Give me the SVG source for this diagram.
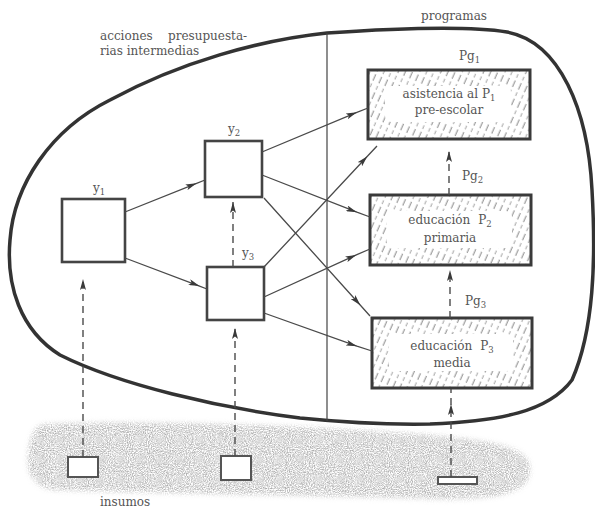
<svg xmlns="http://www.w3.org/2000/svg" width="595" height="511" viewBox="0 0 595 511">
  <style>
    .lbl { font-family: "DejaVu Serif", "Liberation Serif", serif; font-size: 12px; fill: #555; }
    .sub { font-size: 8.5px; }
    .bnd { fill: none; stroke: #333; stroke-width: 3.5; }
    .div { fill: none; stroke: #444; stroke-width: 1.2; }
    .act { fill: #fff; stroke: #444; stroke-width: 2.6; }
    .prg { fill: url(#hatch); stroke: #3a3a3a; stroke-width: 3; }
    .inp { fill: #fff; stroke: #555; stroke-width: 2; }
    .flow { fill: none; stroke: #4a4a4a; stroke-width: 1.3; marker-mid: url(#ah); }
    .feed { fill: none; stroke: #4a4a4a; stroke-width: 1.4; stroke-dasharray: 7 5; marker-end: url(#ah); }
    .feedm { fill: none; stroke: #4a4a4a; stroke-width: 1.4; stroke-dasharray: 7 5; marker-mid: url(#ah); }
    .clear { fill: #fff; }
  </style>
  <defs>
    <marker id="ah" viewBox="0 0 11 6" refX="11" refY="3" markerWidth="11" markerHeight="6" orient="auto" markerUnits="userSpaceOnUse">
      <path d="M0,0 L11,3 L0,6 L2.5,3 z" fill="#3a3a3a"/>
    </marker>
    <!-- broken diagonal hatching for the program boxes -->
    <pattern id="hatch" width="6.5" height="17" patternUnits="userSpaceOnUse" patternTransform="rotate(24)">
      <rect width="6.5" height="17" fill="#fff"/>
      <line x1="3" y1="0" x2="3" y2="7" stroke="#777" stroke-width="0.9"/>
      <line x1="3" y1="10" x2="3" y2="14" stroke="#888" stroke-width="0.8"/>
    </pattern>
    <!-- speckled grey wash for the input area -->
    <filter id="stipple" x="-5%" y="-30%" width="110%" height="160%">
      <feGaussianBlur in="SourceAlpha" stdDeviation="2.5" result="soft"/>
      <feTurbulence type="fractalNoise" baseFrequency="0.95" numOctaves="2" seed="7" result="noise"/>
      <feColorMatrix in="noise" type="matrix" values="0 0 0 0 0.42  0 0 0 0 0.42  0 0 0 0 0.42  0 0 0 1.9 -0.55" result="dots"/>
      <feComposite in="dots" in2="soft" operator="in"/>
    </filter>
  </defs>

  <!-- input area -->
  <g id="insumos-area">
    <path d="M 45 424 C 150 419, 350 427, 450 437 C 510 443, 532 452, 530 472 C 528 492, 500 501, 430 499 C 330 496, 150 493, 55 490 C 32 488, 26 470, 28 455 C 30 435, 35 425, 45 424 Z" fill="#000" filter="url(#stipple)"/>
    <text class="lbl" x="100" y="506">insumos</text>
  </g>

  <!-- system boundary -->
  <g id="boundary">
    <path class="bnd" d="M 327 33 C 400 28, 470 26, 507 32 C 560 42, 588 110, 592 190 C 596 260, 594 330, 572 380 C 548 412, 500 421, 430 424 C 380 425, 340 422, 300 418 C 220 408, 120 385, 60 355 C 20 330, 6 285, 10 240 C 14 185, 50 130, 110 100 C 180 62, 260 40, 327 33 Z"/>
    <line class="div" x1="327" y1="33" x2="327" y2="421"/>
    <text class="lbl" x="100" y="40">acciones</text>
    <text class="lbl" x="168" y="40">presupuesta-</text>
    <text class="lbl" x="100" y="55">rias intermedias</text>
    <text class="lbl" x="454" y="20" text-anchor="middle">programas</text>
  </g>

  <!-- intermediate actions -->
  <g id="y1">
    <rect class="act" x="62" y="199" width="63" height="63"/>
    <text class="lbl" x="93" y="192">y<tspan class="sub" dy="3">1</tspan></text>
  </g>
  <g id="y2">
    <rect class="act" x="205" y="141" width="57" height="56"/>
    <text class="lbl" x="228" y="133">y<tspan class="sub" dy="3">2</tspan></text>
  </g>
  <g id="y3">
    <rect class="act" x="207" y="267" width="57" height="53"/>
    <text class="lbl" x="242" y="257">y<tspan class="sub" dy="3">3</tspan></text>
  </g>

  <!-- programs -->
  <g id="p1">
    <rect class="prg" x="368" y="70" width="162" height="69"/>
    <rect class="clear" x="385" y="86" width="126" height="36" rx="6"/>
    <text class="lbl" x="449" y="98" text-anchor="middle">asistencia al P<tspan class="sub" dy="3">1</tspan></text>
    <text class="lbl" x="449" y="114" text-anchor="middle">pre-escolar</text>
    <text class="lbl" x="459" y="60">Pg<tspan class="sub" dy="3">1</tspan></text>
  </g>
  <g id="p2">
    <rect class="prg" x="370" y="195" width="161" height="70"/>
    <rect class="clear" x="387" y="211" width="125" height="37" rx="6"/>
    <text class="lbl" x="450" y="224" text-anchor="middle">educación<tspan dx="8">P</tspan><tspan class="sub" dy="3">2</tspan></text>
    <text class="lbl" x="450" y="242" text-anchor="middle">primaria</text>
    <text class="lbl" x="462" y="180">Pg<tspan class="sub" dy="3">2</tspan></text>
  </g>
  <g id="p3">
    <rect class="prg" x="372" y="318" width="160" height="70"/>
    <rect class="clear" x="389" y="334" width="124" height="37" rx="6"/>
    <text class="lbl" x="452" y="350" text-anchor="middle">educación<tspan dx="8">P</tspan><tspan class="sub" dy="3">3</tspan></text>
    <text class="lbl" x="452" y="367" text-anchor="middle">media</text>
    <text class="lbl" x="465" y="305">Pg<tspan class="sub" dy="3">3</tspan></text>
  </g>

  <!-- inputs -->
  <g id="i1"><rect class="inp" x="68" y="457" width="30" height="20"/></g>
  <g id="i2"><rect class="inp" x="221" y="456" width="30" height="24"/></g>
  <g id="i3"><rect class="inp" x="438" y="477" width="39" height="7"/></g>

  <!-- connectors -->
  <g id="connectors">
    <path class="flow" d="M 125 212 L 196.6 183.3 L 205 180"/>
    <path class="flow" d="M 125 258 L 199.5 286.1 L 207 289"/>
    <path class="flow" d="M 262 152 L 356.9 112.3 L 368 108"/>
    <path class="flow" d="M 262 175 L 356.9 212.2 L 370 217"/>
    <path class="flow" d="M 264 198 L 360.4 305.3 L 370 316"/>
    <path class="flow" d="M 264 267 L 367.4 156.2 L 377 146"/>
    <path class="flow" d="M 264 297 L 356.3 254.9 L 370 249"/>
    <path class="flow" d="M 264 313 L 356.9 346.2 L 372 351"/>

    <path class="feed" d="M 83 457 L 83 279"/>
    <path class="feed" d="M 235 456 L 235 328"/>
    <path class="feed" d="M 233 267 L 233 202"/>
    <path class="feed" d="M 449 195 L 449 151"/>
    <path class="feed" d="M 450 318 L 450 270"/>
    <path class="feedm" d="M 451 477 L 451 404 L 451 389"/>
  </g>
</svg>
